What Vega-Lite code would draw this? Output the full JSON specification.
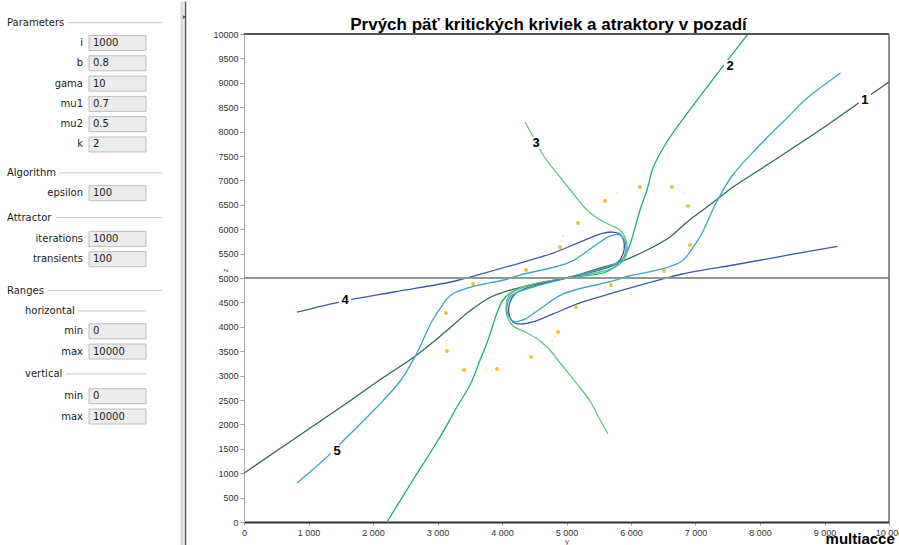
{
  "$schema": "https://vega.github.io/schema/vega-lite/v6.json",
  "padding": 0,
  "spacing": 20,
  "background": "white",
  "config": {
    "view": {"stroke": null},
    "font": "Liberation Sans",
    "axis": {"grid": false, "labelFont": "Liberation Sans", "labelFontSize": 9, "labelColor": "#333333", "tickColor": "#999999", "titleFont": "Liberation Sans", "titleFontSize": 8, "titleFontWeight": "normal", "titleColor": "#555555", "labelOverlap": false}
  },
  "title": {"text": "multiacce", "orient": "bottom", "anchor": "end", "fontSize": 15, "fontWeight": "bold", "font": "Liberation Sans", "color": "#000000", "offset": -15, "dx": -8},
  "datasets": {
    "panel": [
      {"kind": "header", "label": "Parameters", "row": 0},
      {"kind": "field", "label": "i", "value": "1000", "row": 1},
      {"kind": "field", "label": "b", "value": "0.8", "row": 2},
      {"kind": "field", "label": "gama", "value": "10", "row": 3},
      {"kind": "field", "label": "mu1", "value": "0.7", "row": 4},
      {"kind": "field", "label": "mu2", "value": "0.5", "row": 5},
      {"kind": "field", "label": "k", "value": "2", "row": 6},
      {"kind": "header", "label": "Algorithm", "row": 7.4},
      {"kind": "field", "label": "epsilon", "value": "100", "row": 8.4},
      {"kind": "header", "label": "Attractor", "row": 9.6},
      {"kind": "field", "label": "iterations", "value": "1000", "row": 10.65},
      {"kind": "field", "label": "transients", "value": "100", "row": 11.65},
      {"kind": "header", "label": "Ranges", "row": 13.2},
      {"kind": "sub", "label": "horizontal", "row": 14.2},
      {"kind": "field", "label": "min", "value": "0", "row": 15.2},
      {"kind": "field", "label": "max", "value": "10000", "row": 16.2},
      {"kind": "sub", "label": "vertical", "row": 17.3},
      {"kind": "field", "label": "min", "value": "0", "row": 18.4},
      {"kind": "field", "label": "max", "value": "10000", "row": 19.4}
    ],
    "curves": [
      {"curve": "1", "ord": 1, "x": 0, "y": 1000}, {"curve": "1", "ord": 2, "x": 822, "y": 1742}, {"curve": "1", "ord": 3, "x": 1550, "y": 2397}, {"curve": "1", "ord": 4, "x": 2171, "y": 2971}, {"curve": "1", "ord": 5, "x": 2636, "y": 3381}, {"curve": "1", "ord": 6, "x": 3101, "y": 3873}, {"curve": "1", "ord": 7, "x": 3519, "y": 4344}, {"curve": "1", "ord": 8, "x": 3829, "y": 4610}, {"curve": "1", "ord": 9, "x": 4031, "y": 4713}, {"curve": "1", "ord": 10, "x": 4434, "y": 4856}, {"curve": "1", "ord": 11, "x": 5000, "y": 5000}, {"curve": "1", "ord": 12, "x": 5519, "y": 5204}, {"curve": "1", "ord": 13, "x": 5829, "y": 5327}, {"curve": "1", "ord": 14, "x": 6341, "y": 5635}, {"curve": "1", "ord": 15, "x": 6605, "y": 5840}, {"curve": "1", "ord": 16, "x": 6868, "y": 6147}, {"curve": "1", "ord": 17, "x": 7116, "y": 6393}, {"curve": "1", "ord": 18, "x": 7380, "y": 6659}, {"curve": "1", "ord": 19, "x": 7581, "y": 6864}, {"curve": "1", "ord": 20, "x": 8155, "y": 7356}, {"curve": "1", "ord": 21, "x": 8930, "y": 8032}, {"curve": "1", "ord": 22, "x": 9597, "y": 8647}, {"curve": "1", "ord": 23, "x": 10000, "y": 9016},
      {"curve": "2", "ord": 1, "x": 2217, "y": 0}, {"curve": "2", "ord": 2, "x": 2620, "y": 861}, {"curve": "2", "ord": 3, "x": 2992, "y": 1639}, {"curve": "2", "ord": 4, "x": 3302, "y": 2356}, {"curve": "2", "ord": 5, "x": 3519, "y": 2848}, {"curve": "2", "ord": 6, "x": 3659, "y": 3319}, {"curve": "2", "ord": 7, "x": 3767, "y": 3668}, {"curve": "2", "ord": 8, "x": 3922, "y": 4282}, {"curve": "2", "ord": 9, "x": 4015, "y": 4549}, {"curve": "2", "ord": 10, "x": 4155, "y": 4713}, {"curve": "2", "ord": 11, "x": 4387, "y": 4836}, {"curve": "2", "ord": 12, "x": 5000, "y": 5000}, {"curve": "2", "ord": 13, "x": 5613, "y": 5123}, {"curve": "2", "ord": 14, "x": 5829, "y": 5327}, {"curve": "2", "ord": 15, "x": 5938, "y": 5532}, {"curve": "2", "ord": 16, "x": 6031, "y": 5881}, {"curve": "2", "ord": 17, "x": 6140, "y": 6393}, {"curve": "2", "ord": 18, "x": 6248, "y": 6803}, {"curve": "2", "ord": 19, "x": 6341, "y": 7253}, {"curve": "2", "ord": 20, "x": 6527, "y": 7725}, {"curve": "2", "ord": 21, "x": 6760, "y": 8176}, {"curve": "2", "ord": 22, "x": 7178, "y": 8913}, {"curve": "2", "ord": 23, "x": 7535, "y": 9528}, {"curve": "2", "ord": 24, "x": 7814, "y": 10000},
      {"curve": "3", "ord": 1, "x": 4357, "y": 8196}, {"curve": "3", "ord": 2, "x": 4512, "y": 7827}, {"curve": "3", "ord": 3, "x": 4636, "y": 7520}, {"curve": "3", "ord": 4, "x": 4775, "y": 7274}, {"curve": "3", "ord": 5, "x": 4899, "y": 7069}, {"curve": "3", "ord": 6, "x": 5085, "y": 6762}, {"curve": "3", "ord": 7, "x": 5287, "y": 6434}, {"curve": "3", "ord": 8, "x": 5473, "y": 6229}, {"curve": "3", "ord": 9, "x": 5674, "y": 6086}, {"curve": "3", "ord": 10, "x": 5829, "y": 5983}, {"curve": "3", "ord": 11, "x": 5922, "y": 5778}, {"curve": "3", "ord": 12, "x": 5938, "y": 5573}, {"curve": "3", "ord": 13, "x": 5891, "y": 5368}, {"curve": "3", "ord": 14, "x": 5752, "y": 5225}, {"curve": "3", "ord": 15, "x": 5519, "y": 5123}, {"curve": "3", "ord": 16, "x": 5000, "y": 5000}, {"curve": "3", "ord": 17, "x": 4481, "y": 4877}, {"curve": "3", "ord": 18, "x": 4248, "y": 4775}, {"curve": "3", "ord": 19, "x": 4109, "y": 4632}, {"curve": "3", "ord": 20, "x": 4062, "y": 4427}, {"curve": "3", "ord": 21, "x": 4078, "y": 4222}, {"curve": "3", "ord": 22, "x": 4171, "y": 4017}, {"curve": "3", "ord": 23, "x": 4326, "y": 3914}, {"curve": "3", "ord": 24, "x": 4527, "y": 3771}, {"curve": "3", "ord": 25, "x": 4713, "y": 3566}, {"curve": "3", "ord": 26, "x": 4915, "y": 3238}, {"curve": "3", "ord": 27, "x": 5101, "y": 2931}, {"curve": "3", "ord": 28, "x": 5225, "y": 2726}, {"curve": "3", "ord": 29, "x": 5364, "y": 2480}, {"curve": "3", "ord": 30, "x": 5488, "y": 2173}, {"curve": "3", "ord": 31, "x": 5643, "y": 1804},
      {"curve": "4", "ord": 1, "x": 822, "y": 4303}, {"curve": "4", "ord": 2, "x": 1550, "y": 4528}, {"curve": "4", "ord": 3, "x": 2326, "y": 4713}, {"curve": "4", "ord": 4, "x": 3209, "y": 4918}, {"curve": "4", "ord": 5, "x": 3504, "y": 5020}, {"curve": "4", "ord": 6, "x": 4279, "y": 5307}, {"curve": "4", "ord": 7, "x": 4791, "y": 5512}, {"curve": "4", "ord": 8, "x": 5209, "y": 5737}, {"curve": "4", "ord": 9, "x": 5519, "y": 5901}, {"curve": "4", "ord": 10, "x": 5705, "y": 5942}, {"curve": "4", "ord": 11, "x": 5829, "y": 5901}, {"curve": "4", "ord": 12, "x": 5891, "y": 5737}, {"curve": "4", "ord": 13, "x": 5876, "y": 5491}, {"curve": "4", "ord": 14, "x": 5783, "y": 5307}, {"curve": "4", "ord": 15, "x": 5519, "y": 5164}, {"curve": "4", "ord": 16, "x": 5000, "y": 5000}, {"curve": "4", "ord": 17, "x": 4481, "y": 4836}, {"curve": "4", "ord": 18, "x": 4217, "y": 4693}, {"curve": "4", "ord": 19, "x": 4124, "y": 4509}, {"curve": "4", "ord": 20, "x": 4109, "y": 4263}, {"curve": "4", "ord": 21, "x": 4171, "y": 4099}, {"curve": "4", "ord": 22, "x": 4295, "y": 4058}, {"curve": "4", "ord": 23, "x": 4481, "y": 4099}, {"curve": "4", "ord": 24, "x": 4791, "y": 4263}, {"curve": "4", "ord": 25, "x": 5209, "y": 4488}, {"curve": "4", "ord": 26, "x": 5721, "y": 4693}, {"curve": "4", "ord": 27, "x": 6496, "y": 4980}, {"curve": "4", "ord": 28, "x": 6791, "y": 5082}, {"curve": "4", "ord": 29, "x": 7674, "y": 5287}, {"curve": "4", "ord": 30, "x": 8450, "y": 5472}, {"curve": "4", "ord": 31, "x": 9200, "y": 5650},
      {"curve": "5", "ord": 1, "x": 822, "y": 799}, {"curve": "5", "ord": 2, "x": 1287, "y": 1332}, {"curve": "5", "ord": 3, "x": 1550, "y": 1680}, {"curve": "5", "ord": 4, "x": 2062, "y": 2356}, {"curve": "5", "ord": 5, "x": 2434, "y": 2910}, {"curve": "5", "ord": 6, "x": 2682, "y": 3463}, {"curve": "5", "ord": 7, "x": 2899, "y": 4078}, {"curve": "5", "ord": 8, "x": 3054, "y": 4405}, {"curve": "5", "ord": 9, "x": 3209, "y": 4651}, {"curve": "5", "ord": 10, "x": 3519, "y": 4815}, {"curve": "5", "ord": 11, "x": 4031, "y": 4959}, {"curve": "5", "ord": 12, "x": 4279, "y": 5061}, {"curve": "5", "ord": 13, "x": 5054, "y": 5327}, {"curve": "5", "ord": 14, "x": 5411, "y": 5635}, {"curve": "5", "ord": 15, "x": 5674, "y": 5860}, {"curve": "5", "ord": 16, "x": 5829, "y": 5881}, {"curve": "5", "ord": 17, "x": 5922, "y": 5676}, {"curve": "5", "ord": 18, "x": 5860, "y": 5368}, {"curve": "5", "ord": 19, "x": 5566, "y": 5204}, {"curve": "5", "ord": 20, "x": 5000, "y": 5000}, {"curve": "5", "ord": 21, "x": 4434, "y": 4796}, {"curve": "5", "ord": 22, "x": 4140, "y": 4632}, {"curve": "5", "ord": 23, "x": 4078, "y": 4324}, {"curve": "5", "ord": 24, "x": 4171, "y": 4119}, {"curve": "5", "ord": 25, "x": 4326, "y": 4140}, {"curve": "5", "ord": 26, "x": 4589, "y": 4365}, {"curve": "5", "ord": 27, "x": 4946, "y": 4673}, {"curve": "5", "ord": 28, "x": 5721, "y": 4939}, {"curve": "5", "ord": 29, "x": 5969, "y": 5041}, {"curve": "5", "ord": 30, "x": 6481, "y": 5185}, {"curve": "5", "ord": 31, "x": 6791, "y": 5349}, {"curve": "5", "ord": 32, "x": 6946, "y": 5595}, {"curve": "5", "ord": 33, "x": 7101, "y": 5922}, {"curve": "5", "ord": 34, "x": 7318, "y": 6537}, {"curve": "5", "ord": 35, "x": 7566, "y": 7090}, {"curve": "5", "ord": 36, "x": 7938, "y": 7644}, {"curve": "5", "ord": 37, "x": 8450, "y": 8320}, {"curve": "5", "ord": 38, "x": 8713, "y": 8668}, {"curve": "5", "ord": 39, "x": 9250, "y": 9201}
    ],
    "attractor": [
      {"x": 6140, "y": 6864}, {"x": 6636, "y": 6864}, {"x": 5597, "y": 6577}, {"x": 6884, "y": 6475}, {"x": 5178, "y": 6127}, {"x": 4899, "y": 5635}, {"x": 6915, "y": 5676}, {"x": 4372, "y": 5163}, {"x": 6512, "y": 5143}, {"x": 3550, "y": 4877}, {"x": 5690, "y": 4856}, {"x": 5147, "y": 4405}, {"x": 3132, "y": 4282}, {"x": 4868, "y": 3893}, {"x": 3147, "y": 3504}, {"x": 4450, "y": 3381}, {"x": 3411, "y": 3114}, {"x": 3923, "y": 3135}
    ],
    "trail": [
      {"x": 5690, "y": 6659}, {"x": 5783, "y": 6741}, {"x": 6729, "y": 6823}, {"x": 6806, "y": 6762}, {"x": 4915, "y": 5758}, {"x": 4946, "y": 5860}, {"x": 6900, "y": 5553}, {"x": 6884, "y": 5430}, {"x": 3643, "y": 4897}, {"x": 3736, "y": 4918}, {"x": 5597, "y": 4815}, {"x": 5504, "y": 4774}, {"x": 4822, "y": 3791}, {"x": 4775, "y": 3709}, {"x": 3147, "y": 3627}, {"x": 3147, "y": 3729}, {"x": 3829, "y": 3114}, {"x": 3752, "y": 3114}
    ],
    "labels": [
      {"label": "1", "x": 9626, "y": 8647}, {"label": "2", "x": 7535, "y": 9344}, {"label": "3", "x": 4527, "y": 7766}, {"label": "4", "x": 1566, "y": 4549}, {"label": "5", "x": 1442, "y": 1455}
    ]
  },
  "hconcat": [
    {
      "width": 190,
      "height": 488,
      "data": {"name": "panel"},
      "layer": [
        {
          "data": {"values": [{}]},
          "mark": {"type": "rule", "color": "#d8d8d8", "strokeWidth": 3},
          "encoding": {
            "x": {"datum": 182, "type": "quantitative", "scale": {"domain": [0, 190], "nice": false, "zero": false}, "axis": null},
            "y": {"datum": -1.044, "type": "quantitative", "scale": {"domain": [0.5567, 24.596], "reverse": true, "nice": false, "zero": false}, "axis": null},
            "y2": {"datum": 25.73}
          }
        },
        {
          "data": {"values": [{}]},
          "mark": {"type": "rule", "color": "#5a5a5a", "strokeWidth": 1.5},
          "encoding": {
            "x": {"datum": 185.5, "type": "quantitative", "axis": null},
            "y": {"datum": -1.044, "type": "quantitative", "axis": null},
            "y2": {"datum": 25.73}
          }
        },
        {
          "data": {"values": [{}]},
          "mark": {"type": "point", "shape": "triangle-right", "filled": true, "color": "#222222", "size": 14},
          "encoding": {
            "x": {"datum": 184.5, "type": "quantitative", "axis": null},
            "y": {"datum": -0.28, "type": "quantitative", "axis": null}
          }
        },
        {
          "transform": [{"filter": "datum.kind == 'header'"}],
          "mark": {"type": "rule", "color": "#c6c6c6", "strokeWidth": 1},
          "encoding": {
            "x": {"datum": 7, "type": "quantitative", "axis": null},
            "x2": {"datum": 162},
            "y": {"field": "row", "type": "quantitative", "axis": null}
          }
        },
        {
          "transform": [{"filter": "datum.kind == 'sub'"}],
          "mark": {"type": "rule", "color": "#c6c6c6", "strokeWidth": 1},
          "encoding": {
            "x": {"datum": 25, "type": "quantitative", "axis": null},
            "x2": {"datum": 146},
            "y": {"field": "row", "type": "quantitative", "axis": null}
          }
        },
        {
          "transform": [{"filter": "datum.kind == 'header'"}],
          "mark": {"type": "text", "align": "left", "baseline": "middle", "font": "DejaVu Sans", "fontSize": 10, "fill": "white", "stroke": "white", "strokeWidth": 8},
          "encoding": {
            "x": {"datum": 7, "type": "quantitative", "axis": null},
            "y": {"field": "row", "type": "quantitative", "axis": null},
            "text": {"field": "label"}
          }
        },
        {
          "transform": [{"filter": "datum.kind == 'sub'"}],
          "mark": {"type": "text", "align": "left", "baseline": "middle", "font": "DejaVu Sans", "fontSize": 10, "fill": "white", "stroke": "white", "strokeWidth": 8},
          "encoding": {
            "x": {"datum": 25, "type": "quantitative", "axis": null},
            "y": {"field": "row", "type": "quantitative", "axis": null},
            "text": {"field": "label"}
          }
        },
        {
          "transform": [{"filter": "datum.kind == 'header'"}],
          "mark": {"type": "text", "align": "left", "baseline": "middle", "font": "DejaVu Sans", "fontSize": 10, "color": "#1a1a1a"},
          "encoding": {
            "x": {"datum": 7, "type": "quantitative", "axis": null},
            "y": {"field": "row", "type": "quantitative", "axis": null},
            "text": {"field": "label"}
          }
        },
        {
          "transform": [{"filter": "datum.kind == 'sub'"}],
          "mark": {"type": "text", "align": "left", "baseline": "middle", "font": "DejaVu Sans", "fontSize": 10, "color": "#1a1a1a"},
          "encoding": {
            "x": {"datum": 25, "type": "quantitative", "axis": null},
            "y": {"field": "row", "type": "quantitative", "axis": null},
            "text": {"field": "label"}
          }
        },
        {
          "transform": [{"filter": "datum.kind == 'field'"}],
          "mark": {"type": "rect", "yOffset": -7.5, "y2Offset": 7.5, "fill": "#ececec", "stroke": "#bdbdbd", "strokeWidth": 1},
          "encoding": {
            "x": {"datum": 89, "type": "quantitative", "axis": null},
            "x2": {"datum": 146},
            "y": {"field": "row", "type": "quantitative", "axis": null},
            "y2": {"field": "row"}
          }
        },
        {
          "transform": [{"filter": "datum.kind == 'field'"}],
          "mark": {"type": "text", "align": "right", "baseline": "middle", "font": "DejaVu Sans", "fontSize": 10, "color": "#1a1a1a"},
          "encoding": {
            "x": {"datum": 83, "type": "quantitative", "axis": null},
            "y": {"field": "row", "type": "quantitative", "axis": null},
            "text": {"field": "label"}
          }
        },
        {
          "transform": [{"filter": "datum.kind == 'field'"}],
          "mark": {"type": "text", "align": "left", "baseline": "middle", "font": "DejaVu Sans", "fontSize": 10, "color": "#1a1a1a"},
          "encoding": {
            "x": {"datum": 93, "type": "quantitative", "axis": null},
            "y": {"field": "row", "type": "quantitative", "axis": null},
            "text": {"field": "value"}
          }
        }
      ]
    },
    {
      "width": 645,
      "height": 488,
      "title": {"text": "Prvých päť kritických kriviek a atraktory v pozadí", "anchor": "middle", "dx": -18, "offset": -4, "fontSize": 17, "font": "Liberation Sans", "fontWeight": "bold", "color": "#000000"},
      "layer": [
        {
          "data": {"name": "curves"},
          "mark": {"type": "line", "strokeWidth": 1.3, "interpolate": "catmull-rom"},
          "encoding": {
            "x": {"field": "x", "type": "quantitative", "scale": {"domain": [0, 10000], "nice": false, "zero": false},
              "axis": {"values": [0, 1000, 2000, 3000, 4000, 5000, 6000, 7000, 8000, 9000, 10000], "labelExpr": "replace(format(datum.value, ','), ',', ' ')", "title": "y", "labelFlush": false, "domainColor": "#333333", "domainWidth": 2, "tickSize": 3, "labelPadding": 3, "titlePadding": 0}},
            "y": {"field": "y", "type": "quantitative", "scale": {"domain": [0, 10000], "nice": false, "zero": false},
              "axis": {"values": [0, 500, 1000, 1500, 2000, 2500, 3000, 3500, 4000, 4500, 5000, 5500, 6000, 6500, 7000, 7500, 8000, 8500, 9000, 9500, 10000], "format": "d", "title": "z", "titleX": -15, "titleY": 236, "minExtent": 34, "maxExtent": 34, "domainColor": "#aaaaaa", "domainWidth": 1, "tickSize": 4, "labelPadding": 2, "labelFlush": false}},
            "color": {"field": "curve", "type": "nominal", "scale": {"domain": ["1", "2", "3", "4", "5"], "range": ["#2f6b47", "#1daf6b", "#5ec67e", "#3c5aa6", "#39a6c6"]}, "legend": null},
            "order": {"field": "ord", "type": "quantitative"}
          }
        },
        {
          "data": {"values": [{}]},
          "mark": {"type": "rule", "color": "#8d9c8f", "strokeWidth": 2},
          "encoding": {"y": {"datum": 5000, "type": "quantitative",
              "axis": {"values": [0, 500, 1000, 1500, 2000, 2500, 3000, 3500, 4000, 4500, 5000, 5500, 6000, 6500, 7000, 7500, 8000, 8500, 9000, 9500, 10000], "format": "d", "title": "z", "titleX": -15, "titleY": 236, "minExtent": 34, "maxExtent": 34, "domainColor": "#aaaaaa", "domainWidth": 1, "tickSize": 4, "labelPadding": 2, "labelFlush": false}}}
        },
        {
          "data": {"values": [{}]},
          "mark": {"type": "rule", "color": "#555555", "strokeWidth": 2},
          "encoding": {"y": {"datum": 10000, "type": "quantitative",
              "axis": {"values": [0, 500, 1000, 1500, 2000, 2500, 3000, 3500, 4000, 4500, 5000, 5500, 6000, 6500, 7000, 7500, 8000, 8500, 9000, 9500, 10000], "format": "d", "title": "z", "titleX": -15, "titleY": 236, "minExtent": 34, "maxExtent": 34, "domainColor": "#aaaaaa", "domainWidth": 1, "tickSize": 4, "labelPadding": 2, "labelFlush": false}}}
        },
        {
          "data": {"values": [{}]},
          "mark": {"type": "rule", "color": "#6a6a6a", "strokeWidth": 1.5},
          "encoding": {"x": {"datum": 10000, "type": "quantitative",
              "axis": {"values": [0, 1000, 2000, 3000, 4000, 5000, 6000, 7000, 8000, 9000, 10000], "labelExpr": "replace(format(datum.value, ','), ',', ' ')", "title": "y", "labelFlush": false, "domainColor": "#333333", "domainWidth": 2, "tickSize": 3, "labelPadding": 3, "titlePadding": 0}}}
        },
        {
          "data": {"name": "trail"},
          "mark": {"type": "circle", "size": 3, "color": "#f8c22c", "opacity": 0.55},
          "encoding": {
            "x": {"field": "x", "type": "quantitative",
              "axis": {"values": [0, 1000, 2000, 3000, 4000, 5000, 6000, 7000, 8000, 9000, 10000], "labelExpr": "replace(format(datum.value, ','), ',', ' ')", "title": "y", "labelFlush": false, "domainColor": "#333333", "domainWidth": 2, "tickSize": 3, "labelPadding": 3, "titlePadding": 0}},
            "y": {"field": "y", "type": "quantitative",
              "axis": {"values": [0, 500, 1000, 1500, 2000, 2500, 3000, 3500, 4000, 4500, 5000, 5500, 6000, 6500, 7000, 7500, 8000, 8500, 9000, 9500, 10000], "format": "d", "title": "z", "titleX": -15, "titleY": 236, "minExtent": 34, "maxExtent": 34, "domainColor": "#aaaaaa", "domainWidth": 1, "tickSize": 4, "labelPadding": 2, "labelFlush": false}}
          }
        },
        {
          "data": {"name": "attractor"},
          "mark": {"type": "circle", "size": 16, "color": "#f7bf26", "opacity": 1},
          "encoding": {
            "x": {"field": "x", "type": "quantitative",
              "axis": {"values": [0, 1000, 2000, 3000, 4000, 5000, 6000, 7000, 8000, 9000, 10000], "labelExpr": "replace(format(datum.value, ','), ',', ' ')", "title": "y", "labelFlush": false, "domainColor": "#333333", "domainWidth": 2, "tickSize": 3, "labelPadding": 3, "titlePadding": 0}},
            "y": {"field": "y", "type": "quantitative",
              "axis": {"values": [0, 500, 1000, 1500, 2000, 2500, 3000, 3500, 4000, 4500, 5000, 5500, 6000, 6500, 7000, 7500, 8000, 8500, 9000, 9500, 10000], "format": "d", "title": "z", "titleX": -15, "titleY": 236, "minExtent": 34, "maxExtent": 34, "domainColor": "#aaaaaa", "domainWidth": 1, "tickSize": 4, "labelPadding": 2, "labelFlush": false}}
          }
        },
        {
          "data": {"name": "labels"},
          "mark": {"type": "square", "size": 150, "color": "white", "opacity": 1},
          "encoding": {
            "x": {"field": "x", "type": "quantitative",
              "axis": {"values": [0, 1000, 2000, 3000, 4000, 5000, 6000, 7000, 8000, 9000, 10000], "labelExpr": "replace(format(datum.value, ','), ',', ' ')", "title": "y", "labelFlush": false, "domainColor": "#333333", "domainWidth": 2, "tickSize": 3, "labelPadding": 3, "titlePadding": 0}},
            "y": {"field": "y", "type": "quantitative",
              "axis": {"values": [0, 500, 1000, 1500, 2000, 2500, 3000, 3500, 4000, 4500, 5000, 5500, 6000, 6500, 7000, 7500, 8000, 8500, 9000, 9500, 10000], "format": "d", "title": "z", "titleX": -15, "titleY": 236, "minExtent": 34, "maxExtent": 34, "domainColor": "#aaaaaa", "domainWidth": 1, "tickSize": 4, "labelPadding": 2, "labelFlush": false}}
          }
        },
        {
          "data": {"name": "labels"},
          "mark": {"type": "text", "fontSize": 13, "fontWeight": "bold", "font": "Liberation Sans", "color": "#000000", "align": "center", "baseline": "middle"},
          "encoding": {
            "x": {"field": "x", "type": "quantitative",
              "axis": {"values": [0, 1000, 2000, 3000, 4000, 5000, 6000, 7000, 8000, 9000, 10000], "labelExpr": "replace(format(datum.value, ','), ',', ' ')", "title": "y", "labelFlush": false, "domainColor": "#333333", "domainWidth": 2, "tickSize": 3, "labelPadding": 3, "titlePadding": 0}},
            "y": {"field": "y", "type": "quantitative",
              "axis": {"values": [0, 500, 1000, 1500, 2000, 2500, 3000, 3500, 4000, 4500, 5000, 5500, 6000, 6500, 7000, 7500, 8000, 8500, 9000, 9500, 10000], "format": "d", "title": "z", "titleX": -15, "titleY": 236, "minExtent": 34, "maxExtent": 34, "domainColor": "#aaaaaa", "domainWidth": 1, "tickSize": 4, "labelPadding": 2, "labelFlush": false}},
            "text": {"field": "label"}
          }
        }
      ]
    }
  ]
}
